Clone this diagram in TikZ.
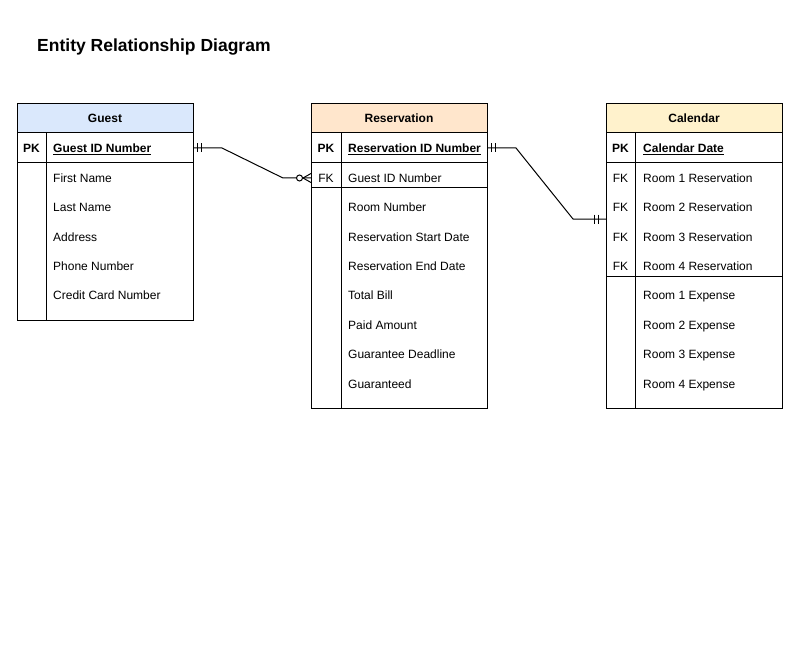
\documentclass[tikz,border=0pt]{standalone}
\usepackage{fontspec}
\setmainfont{Liberation Sans}
\usetikzlibrary{calc}
\definecolor{guestfill}{HTML}{DAE8FC}
\definecolor{resfill}{HTML}{FFE6CC}
\definecolor{calfill}{HTML}{FFF2CC}
\newcommand{\fs}{\fontsize{12}{14}\selectfont}
\begin{document}
\begin{tikzpicture}[x=1pt,y=-1pt,
  ent/.style={draw=black, line width=1pt, minimum width=176pt, anchor=north west, inner sep=0pt, outer sep=0pt},
  hdr/.style={ent, minimum height=29pt, font=\bfseries\fs},
  sepline/.style={draw=black, line width=1pt},
  txt/.style={anchor=base west, inner sep=0pt, font=\fs},
  keytxt/.style={anchor=base, inner sep=0pt, font=\fs},
  rel/.style={draw=black, line width=1pt},
  tick/.style={draw=black, line width=1pt}]
\useasboundingbox (0,0) rectangle (799,668);

\node[anchor=base west, inner sep=0pt, font=\bfseries\fontsize{17.5}{20}\selectfont] (title) at (37,52) {Entity Relationship Diagram};

% ---------- Guest ----------
\node[hdr, fill=guestfill] (gh) at (17,104) {Guest};
\node[ent, minimum height=187pt] (gb) at (17,133) {};
\draw[sepline] ($(gb.north west)+(0,30)$) -- ($(gb.north east)+(0,30)$);
\draw[sepline] ($(gb.north west)+(29,0)$) -- ($(gb.south west)+(29,0)$);
\node[keytxt, font=\bfseries\fs] (gpkk) at (31.5,152.3) {PK};
\node[txt, font=\bfseries\fs] (gpk) at (53,152.3) {\underline{Guest ID Number}};
\node[txt] (g1) at (53,182.3) {First Name};
\node[txt] (g2) at (53,211.3) {Last Name};
\node[txt] (g3) at (53,241.3) {Address};
\node[txt] (g4) at (53,270.3) {Phone Number};
\node[txt] (g5) at (53,299.3) {Credit Card Number};

% ---------- Reservation ----------
\node[hdr, fill=resfill] (rh) at (311,104) {Reservation};
\node[ent, minimum height=275pt] (rb) at (311,133) {};
\draw[sepline] ($(rb.north west)+(0,30)$) -- ($(rb.north east)+(0,30)$);
\draw[sepline] ($(rb.north west)+(0,55)$) -- ($(rb.north east)+(0,55)$);
\draw[sepline] ($(rb.north west)+(30,0)$) -- ($(rb.south west)+(30,0)$);
\node[keytxt, font=\bfseries\fs] (rpkk) at (326,152.3) {PK};
\node[txt, font=\bfseries\fs] (rpk) at (348,152.3) {\underline{Reservation ID Number}};
\node[keytxt] (rfkk) at (326,182.3) {FK};
\node[txt] (rfk) at (348,182.3) {Guest ID Number};
\node[txt] (r1) at (348,211.3) {Room Number};
\node[txt] (r2) at (348,241.3) {Reservation Start Date};
\node[txt] (r3) at (348,270.3) {Reservation End Date};
\node[txt] (r4) at (348,299.3) {Total Bill};
\node[txt] (r5) at (348,329.3) {Paid Amount};
\node[txt] (r6) at (348,358.3) {Guarantee Deadline};
\node[txt] (r7) at (348,388.3) {Guaranteed};

% ---------- Calendar ----------
\node[hdr, fill=calfill] (ch) at (606,104) {Calendar};
\node[ent, minimum height=275pt] (cb) at (606,133) {};
\draw[sepline] ($(cb.north west)+(0,30)$) -- ($(cb.north east)+(0,30)$);
\draw[sepline] ($(cb.north west)+(0,143)$) -- ($(cb.north east)+(0,143)$);
\draw[sepline] ($(cb.north west)+(29,0)$) -- ($(cb.south west)+(29,0)$);
\node[keytxt, font=\bfseries\fs] (cpkk) at (620.5,152.3) {PK};
\node[txt, font=\bfseries\fs] (cpk) at (643,152.3) {\underline{Calendar Date}};
\node[keytxt] (cfk1k) at (620.5,182.3) {FK};
\node[txt] (cfk1) at (643,182.3) {Room 1 Reservation};
\node[keytxt] (cfk2k) at (620.5,211.3) {FK};
\node[txt] (cfk2) at (643,211.3) {Room 2 Reservation};
\node[keytxt] (cfk3k) at (620.5,241.3) {FK};
\node[txt] (cfk3) at (643,241.3) {Room 3 Reservation};
\node[keytxt] (cfk4k) at (620.5,270.3) {FK};
\node[txt] (cfk4) at (643,270.3) {Room 4 Reservation};
\node[txt] (c1) at (643,299.3) {Room 1 Expense};
\node[txt] (c2) at (643,329.3) {Room 2 Expense};
\node[txt] (c3) at (643,358.3) {Room 3 Expense};
\node[txt] (c4) at (643,388.3) {Room 4 Expense};

% ---------- Relationships ----------
\coordinate (a1) at ($(gb.north east)+(0,15)$);
\coordinate (b1) at ($(rb.north west)+(0,45)$);
\draw[rel] (a1) -- ++(29,0) -- ($(b1)+(-28,0)$) -- (b1);
\draw[tick] ($(a1)+(4.5,-4.5)$) -- ++(0,9);
\draw[tick] ($(a1)+(8,-4.5)$) -- ++(0,9);
\draw[tick, fill=white] ($(b1)+(-11.5,0)$) circle (3);
\draw[tick] ($(b1)+(-8,0)$) -- ($(b1)+(0,-4.5)$);
\draw[tick] ($(b1)+(-8,0)$) -- ($(b1)+(0,4.5)$);

\coordinate (a2) at ($(rb.north east)+(0,15)$);
\coordinate (b2) at ($(cb.north west)+(0,86)$);
\draw[rel] (a2) -- ++(29,0) -- ($(b2)+(-33,0)$) -- (b2);
\draw[tick] ($(a2)+(4.5,-4.5)$) -- ++(0,9);
\draw[tick] ($(a2)+(8,-4.5)$) -- ++(0,9);
\draw[tick] ($(b2)+(-8,-4.5)$) -- ++(0,9);
\draw[tick] ($(b2)+(-11.5,-4.5)$) -- ++(0,9);
\end{tikzpicture}
\end{document}
